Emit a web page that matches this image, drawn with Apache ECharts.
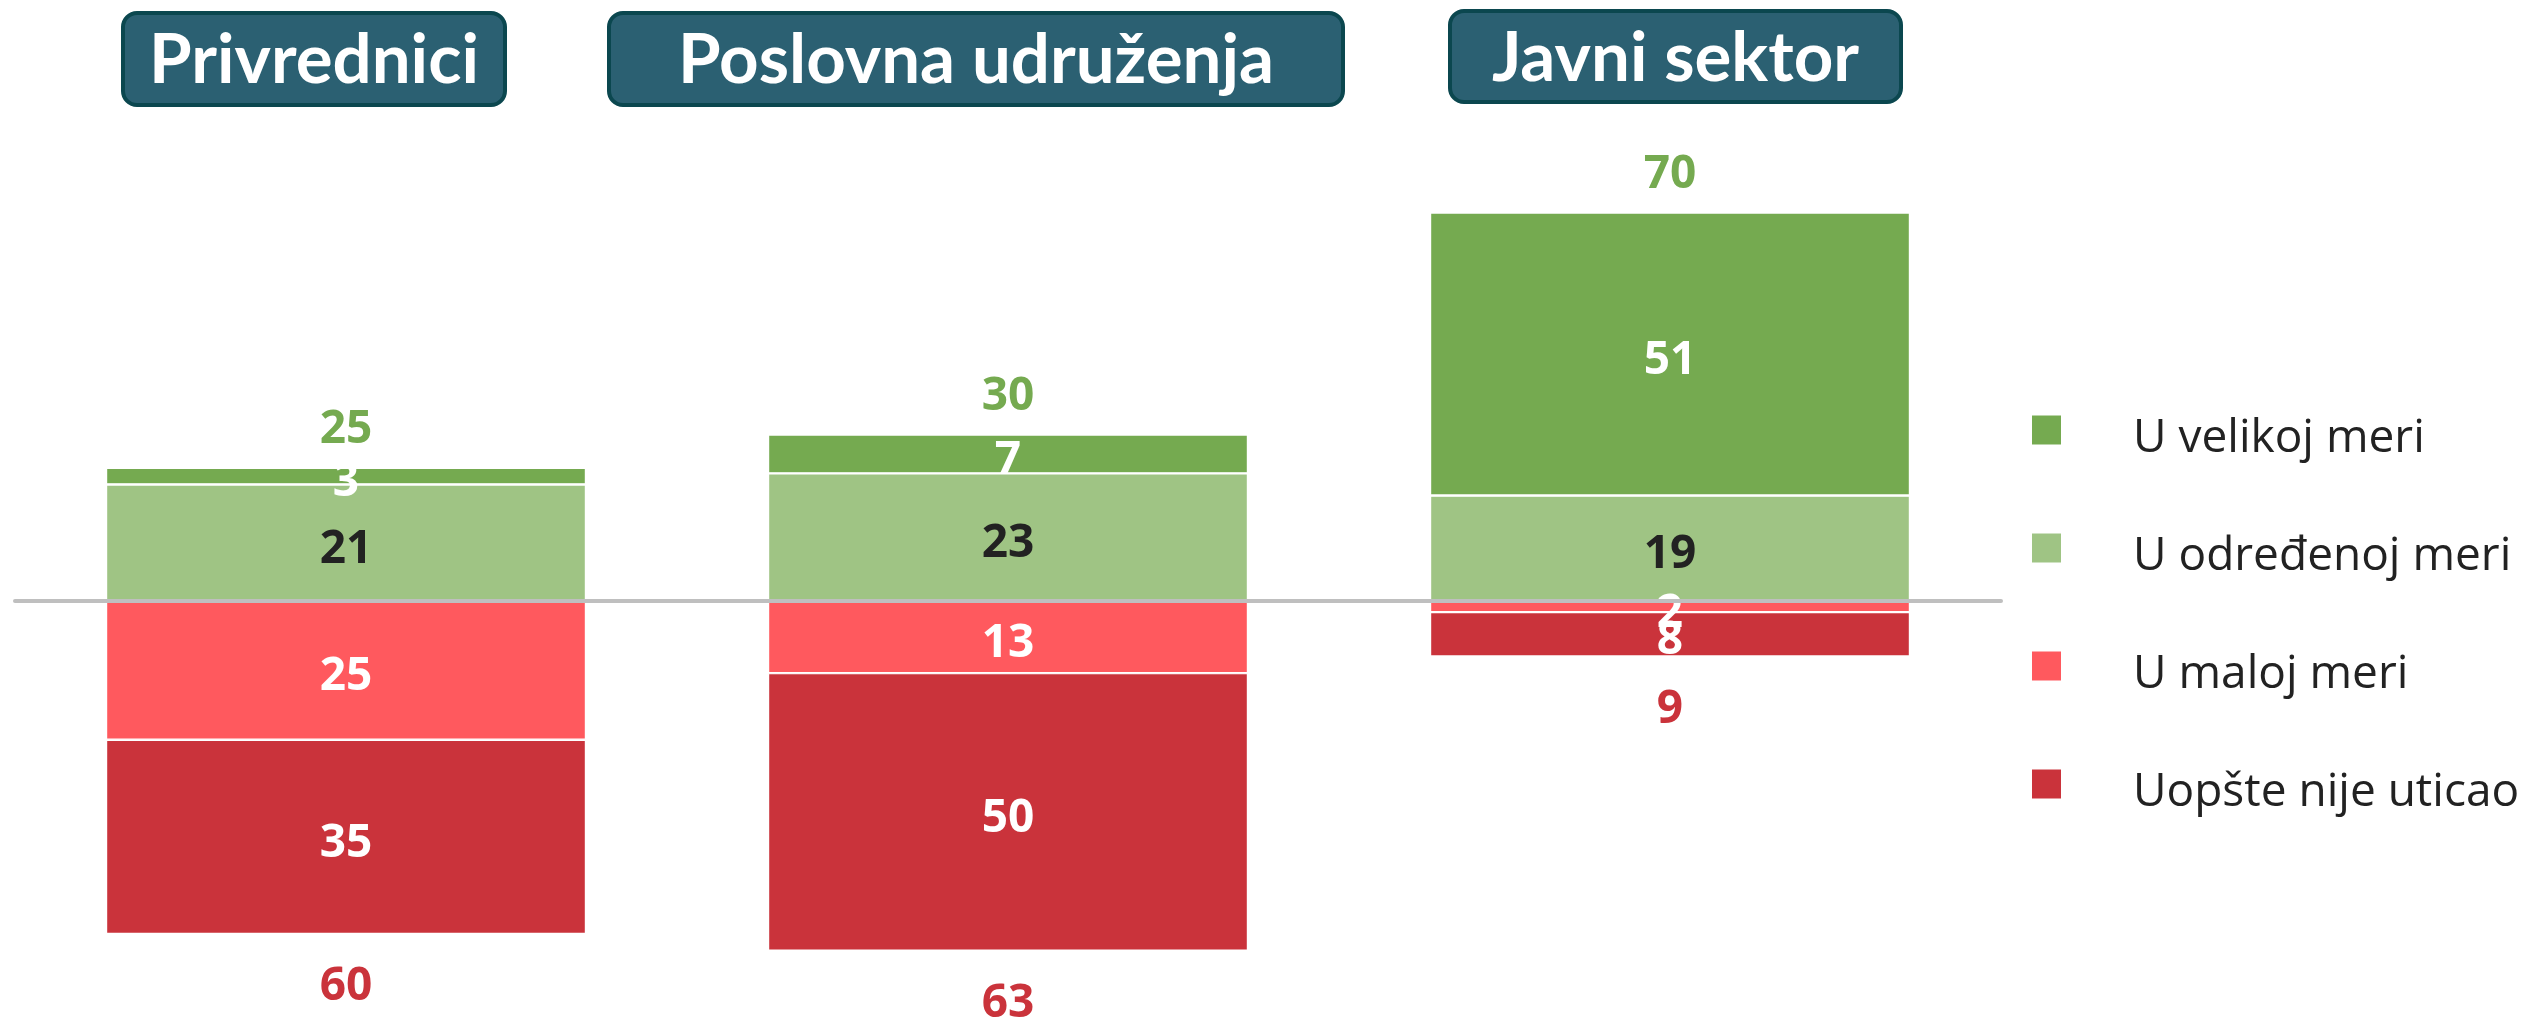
<!DOCTYPE html>
<html>
<head>
<meta charset="utf-8">
<title>Uticaj</title>
<script src="https://cdn.jsdelivr.net/npm/echarts@6/dist/echarts.min.js"></script>
<style>
  html, body { margin: 0; padding: 0; background: #fff; }
  #main { width: 2532px; height: 1019px; }
</style>
</head>
<body>
<div id="main"></div>
<script>
// groups (x axis)
var groups = ['Privrednici', 'Poslovna udruženja', 'Javni sektor'];

// series values, in percent
var uVelikoj = [3, 7, 51];
var uOdredjenoj = [21, 23, 19];
var uMaloj = [25, 13, 2];
var uopsteNije = [35, 50, 8];

// totals printed above / below each bar
var totalPlus = [25, 30, 70];
var totalMinus = [60, 63, 9];

var seriesNames = ['U velikoj meri', 'U određenoj meri', 'U maloj meri', 'Uopšte nije uticao'];
var colors = ['#75AA50', '#9FC484', '#FF595E', '#CA333B'];

var myChart = echarts.init(document.getElementById('main'));

var labelFont = 'Open Sans';

function neg(arr) {
  return arr.map(function (v) { return -v; });
}

// stacked heights, used to place the total labels
var topPos = uVelikoj.map(function (v, i) { return v + uOdredjenoj[i]; });
var bottomPos = uMaloj.map(function (v, i) { return -(v + uopsteNije[i]); });

function segLabel(color) {
  return {
    show: true,
    position: 'inside',
    offset: [0, 7],
    color: color,
    fontFamily: labelFont,
    fontWeight: 'bold',
    fontSize: 46,
    formatter: function (p) { return Math.abs(p.value); }
  };
}

// title boxes on top
var titleBoxes = [
  { text: groups[0], x: 123, y: 13, w: 382, h: 92 },
  { text: groups[1], x: 609, y: 13, w: 734, h: 92 },
  { text: groups[2], x: 1450, y: 11, w: 451, h: 91 }
];
var graphics = [];
titleBoxes.forEach(function (b) {
  graphics.push({
    type: 'rect',
    shape: { x: b.x, y: b.y, width: b.w, height: b.h, r: 14 },
    style: { fill: '#2B6072', stroke: '#0B474F', lineWidth: 4 },
    z: 10
  });
  graphics.push({
    type: 'text',
    x: b.x + b.w / 2,
    y: b.y + b.h / 2 + 2,
    style: {
      text: b.text,
      fill: '#fff',
      font: 'bold 69px Lato',
      textAlign: 'center',
      textVerticalAlign: 'middle'
    },
    z: 11
  });
});

var option = {
  animation: false,
  backgroundColor: '#fff',
  color: colors,
  graphic: graphics,
  grid: {
    left: 15,
    width: 1986,
    top: 157,
    bottom: 29.5
  },
  legend: {
    data: seriesNames,
    orient: 'vertical',
    left: 2030,
    top: 398,
    padding: 0,
    itemWidth: 31,
    itemHeight: 31,
    itemGap: 54,
    icon: 'rect',
    formatter: '{a|{name}}',
    textStyle: {
      rich: {
        a: {
          fontFamily: labelFont,
          fontSize: 46,
          lineHeight: 46,
          color: '#222',
          padding: [18, 0, 0, 66]
        }
      }
    }
  },
  xAxis: {
    type: 'category',
    data: groups,
    z: 10,
    axisLine: { onZero: true, lineStyle: { color: '#BFBFBF', width: 4 } },
    axisTick: { show: false },
    axisLabel: { show: false }
  },
  yAxis: {
    type: 'value',
    min: -70,
    max: 80,
    show: false,
    splitLine: { show: false }
  },
  series: [
    {
      name: seriesNames[1],
      type: 'bar',
      stack: 'all',
      barWidth: 480,
      data: uOdredjenoj,
      itemStyle: { color: colors[1], borderColor: '#fff', borderWidth: 1.2 },
      label: segLabel('#222')
    },
    {
      name: seriesNames[0],
      type: 'bar',
      stack: 'all',
      barWidth: 480,
      data: uVelikoj,
      itemStyle: { color: colors[0], borderColor: '#fff', borderWidth: 1.2 },
      label: segLabel('#fff')
    },
    {
      name: seriesNames[2],
      type: 'bar',
      stack: 'all',
      barWidth: 480,
      data: neg(uMaloj),
      itemStyle: { color: colors[2], borderColor: '#fff', borderWidth: 1.2 },
      label: segLabel('#fff')
    },
    {
      name: seriesNames[3],
      type: 'bar',
      stack: 'all',
      barWidth: 480,
      data: neg(uopsteNije),
      itemStyle: { color: colors[3], borderColor: '#fff', borderWidth: 1.2 },
      label: segLabel('#fff')
    },
    {
      // total above bars
      name: 'plus',
      type: 'scatter',
      symbolSize: 0,
      data: topPos,
      itemStyle: { opacity: 1, color: colors[0] },
      label: {
        show: true,
        position: 'top',
        distance: 15,
        color: colors[0],
        opacity: 1,
        fontFamily: labelFont,
        fontWeight: 'bold',
        fontSize: 46,
        formatter: function (p) { return totalPlus[p.dataIndex]; }
      }
    },
    {
      // total below bars
      name: 'minus',
      type: 'scatter',
      symbolSize: 0,
      data: bottomPos,
      itemStyle: { opacity: 1, color: colors[3] },
      label: {
        show: true,
        position: 'bottom',
        distance: 30,
        color: colors[3],
        opacity: 1,
        fontFamily: labelFont,
        fontWeight: 'bold',
        fontSize: 46,
        formatter: function (p) { return totalMinus[p.dataIndex]; }
      }
    }
  ]
};

myChart.setOption(option);
</script>
</body>
</html>
